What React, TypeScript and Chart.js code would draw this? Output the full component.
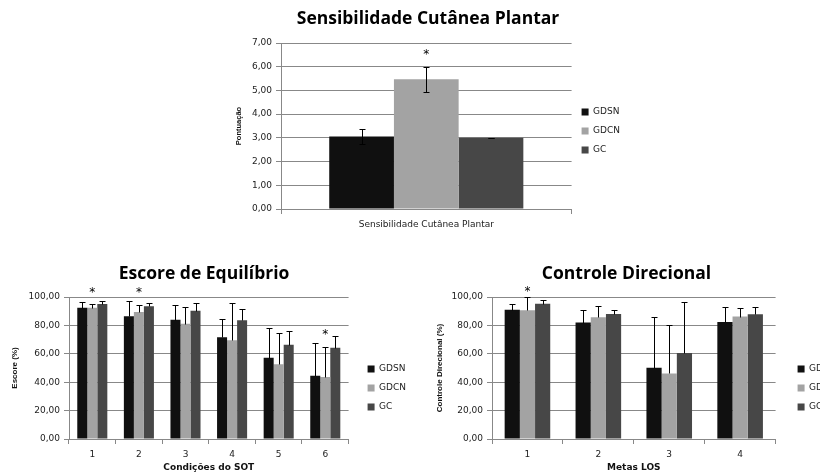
import React, { useEffect, useRef } from 'react';
import { Chart, registerables } from 'chart.js';

Chart.register(...registerables);

// ---------- data ----------
const seriesNames = ['GDSN', 'GDCN', 'GC'];
const seriesColors = ['#101010', '#a3a3a3', '#474747'];

const sensCategories = ['Sensibilidade Cutânea Plantar'];
const sensGDSN = [3.06];
const sensGDCN = [5.47];
const sensGC = [3.0];
const sensErrGDSN = [0.33];
const sensErrGDCN = [0.53];
const sensErrGC = [0.0];
const sensSigCategory = [0];
const sensSigValue = [6.62];

const sotCategories = ['1', '2', '3', '4', '5', '6'];
const sotGDSN = [92.5, 86.5, 84.0, 71.6, 57.3, 44.6];
const sotGDCN = [92.5, 89.5, 81.2, 69.5, 52.6, 43.7];
const sotGC = [95.0, 93.5, 90.4, 83.6, 66.4, 64.3];
const sotErrGDSN = [3.8, 10.5, 10.5, 13.1, 20.6, 23.0];
const sotErrGDCN = [2.6, 5.0, 11.8, 26.3, 22.0, 21.1];
const sotErrGC = [2.3, 2.6, 5.2, 8.2, 9.9, 8.2];
const sotSigCategory = [0, 1, 5];
const sotSigValue = [104.7, 104.7, 75.5];

const losCategories = ['1', '2', '3', '4'];
const losGDSN = [91.0, 82.0, 50.2, 82.4];
const losGDCN = [90.6, 85.7, 46.2, 86.2];
const losGC = [95.2, 88.0, 60.6, 87.8];
const losErrGDSN = [4.4, 9.1, 36.0, 10.6];
const losErrGDCN = [9.4, 8.0, 33.8, 6.1];
const losErrGC = [3.0, 3.1, 35.6, 5.1];
const losSigCategory = [0];
const losSigValue = [105.4];

// ---------- plugin: error bars + significance asterisks ----------
const errorBarPlugin = {
  id: 'errorBars',
  afterDatasetsDraw(chart: any, _args: any, opts: any) {
    if (!opts || !opts.errors) return;
    const ctx = chart.ctx;
    const y = chart.scales.y;
    const cap = opts.cap || 3;
    ctx.save();
    ctx.strokeStyle = '#000';
    ctx.lineWidth = 1;
    opts.errors.forEach((errs: number[], di: number) => {
      const meta = chart.getDatasetMeta(di);
      meta.data.forEach((bar: any, i: number) => {
        const v = chart.data.datasets[di].data[i];
        const e = errs[i];
        const x = Math.round(bar.x) + 0.5;
        const yt = Math.round(y.getPixelForValue(v + e)) + 0.5;
        const yb = opts.plusOnly
          ? Math.round(y.getPixelForValue(v)) + 0.5
          : Math.round(y.getPixelForValue(v - e)) + 0.5;
        ctx.beginPath();
        ctx.moveTo(x, yt);
        ctx.lineTo(x, yb);
        ctx.moveTo(x - cap, yt);
        ctx.lineTo(x + cap, yt);
        if (!opts.plusOnly) {
          ctx.moveTo(x - cap, yb);
          ctx.lineTo(x + cap, yb);
        }
        ctx.stroke();
      });
    });
    ctx.fillStyle = '#000';
    ctx.font = '12px "DejaVu Sans", sans-serif';
    ctx.textAlign = 'center';
    ctx.textBaseline = 'alphabetic';
    (opts.sigCategory || []).forEach((c: number, k: number) => {
      const bar = chart.getDatasetMeta(1).data[c];
      const yy = y.getPixelForValue(opts.sigValue[k]);
      ctx.fillText('*', bar.x, yy + 6);
    });
    ctx.restore();
  },
};

const fmt = (v: number) => v.toFixed(2).replace('.', ',');
const gridColor = '#888888';
const tickFont = { family: '"DejaVu Sans", Verdana, sans-serif', size: 9 };

type Cfg = {
  title: string;
  categories: string[];
  values: number[][];
  errors: number[][];
  plusOnly: boolean;
  sigCategory: number[];
  sigValue: number[];
  yMax: number;
  yStep: number;
  yTitle: string;
  yTitleSize: number;
  xTitle?: string;
  catFontSize: number;
  catPct: number;
  left: number;
  top: number;
  width: number;
  height: number;
  yAxisWidth: number;
  yTitlePad: number;
  xAxisHeight: number;
  bottomPad: number;
  gapWidth: number;
  legendTitleH: number;
  titlePadBottom: number;
};

function BarChart({ cfg }: { cfg: Cfg }) {
  const ref = useRef<HTMLCanvasElement | null>(null);
  useEffect(() => {
    if (!ref.current) return;
    const scales: any = {
      x: {
        grid: { display: true, drawOnChartArea: false, offset: true, tickLength: 5, color: gridColor },
        border: { color: gridColor },
        ticks: { font: { ...tickFont, size: cfg.catFontSize }, color: '#222', padding: 5 },
        title: cfg.xTitle
          ? {
              display: true,
              text: cfg.xTitle,
              font: { family: '"DejaVu Sans", sans-serif', size: 9, weight: 'bold' },
              color: '#111',
              padding: { top: 0, bottom: 0 },
            }
          : { display: false },
        afterFit: (s: any) => {
          s.height = cfg.xAxisHeight;
        },
      },
      y: {
        min: 0,
        max: cfg.yMax,
        grid: { color: gridColor, tickLength: 5, lineWidth: 1 },
        border: { color: gridColor },
        ticks: { stepSize: cfg.yStep, callback: (v: any) => fmt(Number(v)), font: tickFont, color: '#222', padding: 4 },
        title: {
          display: true,
          text: cfg.yTitle,
          font: { family: '"Liberation Sans Narrow", "Liberation Sans", sans-serif', size: cfg.yTitleSize, weight: 'bold' },
          color: '#111',
          padding: { top: cfg.yTitlePad, bottom: cfg.yTitlePad },
        },
        afterFit: (s: any) => {
          s.width = cfg.yAxisWidth;
        },
      },
    };
    if (cfg.gapWidth > 0) {
      scales.gap = {
        type: 'linear',
        position: 'right',
        display: true,
        grid: { display: false },
        border: { display: false },
        ticks: { display: false },
        afterFit: (s: any) => {
          s.width = cfg.gapWidth;
        },
      };
    }
    const chart = new Chart(ref.current, {
      type: 'bar',
      data: {
        labels: cfg.categories,
        datasets: seriesNames.map((n, i) => ({
          label: n,
          data: cfg.values[i],
          backgroundColor: seriesColors[i],
          borderWidth: 0,
          categoryPercentage: cfg.catPct,
          barPercentage: 1,
        })),
      },
      options: {
        responsive: false,
        animation: false,
        devicePixelRatio: 1,
        layout: { padding: { left: 0, right: 0, top: 0, bottom: cfg.bottomPad } },
        scales,
        plugins: {
          title: {
            display: true,
            text: cfg.title,
            font: { family: '"Open Sans", sans-serif', size: 17.5, weight: 'bold' },
            color: '#000',
            padding: { top: 9, bottom: cfg.titlePadBottom },
          },
          legend: {
            display: true,
            position: 'right',
            fullSize: false,
            align: 'center',
            title: { display: true, text: '', padding: 0, font: { size: 10, lineHeight: cfg.legendTitleH / 10 } },
            labels: {
              boxWidth: 7,
              boxHeight: 7,
              padding: 10,
              font: tickFont,
              color: '#222',
            },
          },
          tooltip: { enabled: false },
          errorBars: {
            errors: cfg.errors,
            plusOnly: cfg.plusOnly,
            sigCategory: cfg.sigCategory,
            sigValue: cfg.sigValue,
            cap: 3,
          },
        } as any,
      },
      plugins: [errorBarPlugin],
    } as any);
    return () => chart.destroy();
  }, [cfg]);
  return (
    <canvas
      ref={ref}
      width={cfg.width}
      height={cfg.height}
      style={{ position: 'absolute', left: cfg.left, top: cfg.top, width: cfg.width, height: cfg.height }}
    />
  );
}

const sensCfg: Cfg = {
  title: 'Sensibilidade Cutânea Plantar',
  categories: sensCategories,
  values: [sensGDSN, sensGDCN, sensGC],
  errors: [sensErrGDSN, sensErrGDCN, sensErrGC],
  plusOnly: false,
  sigCategory: sensSigCategory,
  sigValue: sensSigValue,
  yMax: 7,
  yStep: 1,
  yTitle: 'Pontuação',
  yTitleSize: 7.5,
  catFontSize: 9,
  catPct: 0.668,
  left: 226,
  top: 0,
  width: 404,
  height: 250,
  yAxisWidth: 55,
  yTitlePad: 8,
  xAxisHeight: 25,
  bottomPad: 16,
  gapWidth: 0,
  legendTitleH: 10,
  titlePadBottom: 13,
};

const sotCfg: Cfg = {
  title: 'Escore de Equilíbrio',
  categories: sotCategories,
  values: [sotGDSN, sotGDCN, sotGC],
  errors: [sotErrGDSN, sotErrGDCN, sotErrGC],
  plusOnly: true,
  sigCategory: sotSigCategory,
  sigValue: sotSigValue,
  yMax: 100,
  yStep: 20,
  yTitle: 'Escore (%)',
  yTitleSize: 8,
  xTitle: 'Condições do SOT',
  catFontSize: 9,
  catPct: 0.645,
  left: -8,
  top: 255,
  width: 424,
  height: 218,
  yAxisWidth: 77,
  yTitlePad: 18,
  xAxisHeight: 34,
  bottomPad: 0,
  gapWidth: 9,
  legendTitleH: 40,
  titlePadBottom: 12,
};

const losCfg: Cfg = {
  title: 'Controle Direcional',
  categories: losCategories,
  values: [losGDSN, losGDCN, losGC],
  errors: [losErrGDSN, losErrGDCN, losErrGC],
  plusOnly: true,
  sigCategory: losSigCategory,
  sigValue: losSigValue,
  yMax: 100,
  yStep: 20,
  yTitle: 'Controle Direcional (%)',
  yTitleSize: 8,
  xTitle: 'Metas LOS',
  catFontSize: 9,
  catPct: 0.643,
  left: 407,
  top: 255,
  width: 439,
  height: 218,
  yAxisWidth: 85,
  yTitlePad: 28,
  xAxisHeight: 34,
  bottomPad: 0,
  gapWidth: 12,
  legendTitleH: 40,
  titlePadBottom: 12,
};

export default function App() {
  return (
    <div
      style={{
        position: 'fixed',
        left: 0,
        top: 0,
        width: 820,
        height: 473,
        overflow: 'hidden',
        background: '#fff',
      }}
    >
      <BarChart cfg={sensCfg} />
      <BarChart cfg={sotCfg} />
      <BarChart cfg={losCfg} />
    </div>
  );
}
